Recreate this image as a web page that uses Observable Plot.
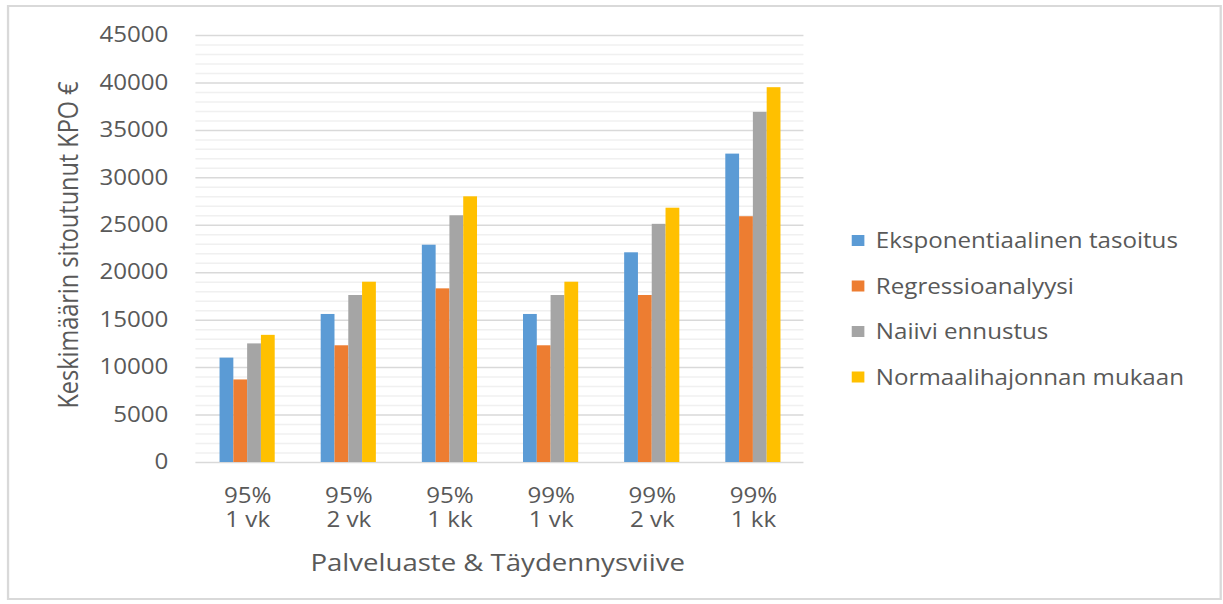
<!DOCTYPE html>
<html>
<head>
<meta charset="utf-8">
<script src="https://cdn.jsdelivr.net/npm/d3@7"></script>
<script src="https://cdn.jsdelivr.net/npm/@observablehq/plot@0.6"></script>
<style>
html, body { margin: 0; padding: 0; background: #fff; overflow: hidden; }
#stage { position: absolute; left: 0; top: 0; width: 1064px; height: 604px;
  transform: scaleX(1.14944); transform-origin: 0 0;
  font-family: "Open Sans", sans-serif; color: #595959; }
#frame { position: absolute; left: 6px; top: 5px; width: 1057px; height: 595px;
  border: 2px solid #d9d9d9; box-sizing: border-box; }
.layer { position: absolute; left: 0; top: 0; }
</style>
</head>
<body>
<div id="stage">
  <div id="frame"></div>
  <div id="grid" class="layer"></div>
  <div id="chart" class="layer"></div>
  <svg id="overlay" class="layer" width="1064" height="604"></svg>
</div>
<script>
// ---- data ----
const levels = ["95%", "95%", "95%", "99%", "99%", "99%"];
const delays = ["1 vk", "2 vk", "1 kk", "1 vk", "2 vk", "1 kk"];
const seriesNames = ["Eksponentiaalinen tasoitus", "Regressioanalyysi", "Naiivi ennustus", "Normaalihajonnan mukaan"];
const eksponentiaalinen = [11000, 15600, 22900, 15600, 22100, 32500];
const regressio = [8700, 12300, 18300, 12300, 17600, 25900];
const naiivi = [12500, 17600, 26000, 17600, 25100, 36900];
const normaali = [13400, 19000, 28000, 19000, 26800, 39500];
const yTicks = [0, 5000, 10000, 15000, 20000, 25000, 30000, 35000, 40000, 45000];
const yTitle = "Keskimäärin sitoutunut KPO €";
const xTitle = "Palveluaste & Täydennysviive";
const colors = ["#5B9BD5", "#ED7D31", "#A5A5A5", "#FFC000"];

const categories = levels.map((l, i) => l + " " + delays[i]);
const seriesValues = [eksponentiaalinen, regressio, naiivi, normaali];
const data = [];
seriesNames.forEach((s, i) => categories.forEach((c, j) => data.push({cat: c, series: s, value: seriesValues[i][j]})));
const minorTicks = d3.range(0, 45001, 1000).filter(v => v % 5000 !== 0);

const common = {
  width: 1064,
  height: 604,
  marginLeft: 170,
  marginRight: 365,
  marginTop: 35,
  marginBottom: 142,
  style: {fontFamily: "'Open Sans', sans-serif", fontSize: "21px", color: "#595959", background: "transparent", overflow: "visible"}
};

// background: gridlines, y axis and category labels (not faceted, so lines are continuous)
const grid = Plot.plot({
  ...common,
  x: {type: "band", domain: categories, padding: 0, axis: null},
  y: {domain: [0, 45000], ticks: yTicks, tickFormat: d => String(d), tickSize: 0, tickPadding: 24, label: null},
  marks: [
    Plot.ruleY(minorTicks, {stroke: "#f0f0f0", strokeWidth: 1.5}),
    Plot.ruleY(yTicks, {stroke: "#d9d9d9", strokeWidth: 1.5}),
    Plot.text(categories, {x: d => d, text: (d, i) => levels[i], frameAnchor: "bottom", dy: 40, fontSize: 21, fill: "#595959"}),
    Plot.text(categories, {x: d => d, text: (d, i) => delays[i], frameAnchor: "bottom", dy: 64, fontSize: 21, fill: "#595959"})
  ]
});
document.getElementById("grid").appendChild(grid);

// foreground: grouped bars
const chart = Plot.plot({
  ...common,
  fx: {domain: categories, padding: 0, axis: null},
  x: {domain: seriesNames, paddingInner: 0, paddingOuter: 1.5, axis: null},
  y: {domain: [0, 45000], axis: null},
  color: {domain: seriesNames, range: colors},
  marks: [
    Plot.barY(data, {fx: "cat", x: "series", y: "value", fill: "series"})
  ]
});
document.getElementById("chart").appendChild(chart);

// ---- titles & legend ----
const ov = d3.select("#overlay").style("font-family", "'Open Sans', sans-serif");
ov.append("text")
  .attr("transform", "translate(68,245) rotate(-90)")
  .attr("text-anchor", "middle")
  .attr("font-size", 23.5)
  .attr("fill", "#595959")
  .text(yTitle);
ov.append("text")
  .attr("x", 433).attr("y", 571)
  .attr("text-anchor", "middle")
  .attr("font-size", 24)
  .attr("fill", "#595959")
  .text(xTitle);
const leg = ov.append("g");
seriesNames.forEach((s, i) => {
  const cy = 240.5 + 45.5 * i;
  leg.append("rect").attr("x", 741).attr("y", cy - 5.5).attr("width", 11).attr("height", 11).attr("fill", colors[i]);
  leg.append("text").attr("x", 762).attr("y", cy).attr("dominant-baseline", "central")
    .attr("font-size", 21).attr("fill", "#595959").text(s);
});
</script>
</body>
</html>
